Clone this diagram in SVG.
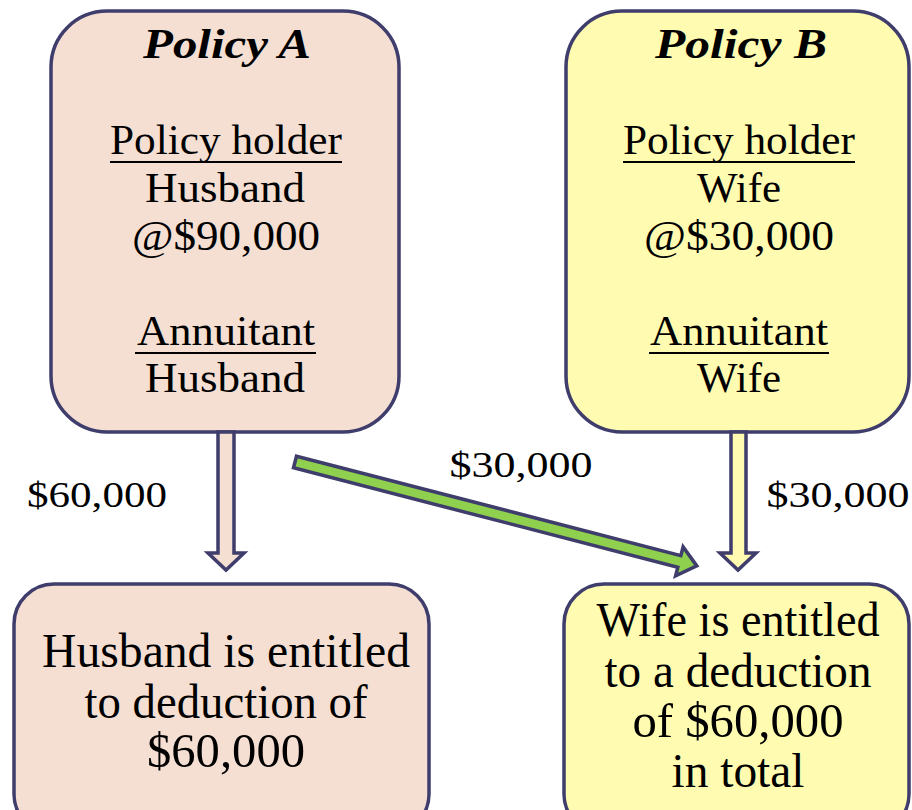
<svg xmlns="http://www.w3.org/2000/svg" width="912" height="810" viewBox="0 0 912 810">
<style>
.box{stroke:#3f3d6b;stroke-width:3.5}
.pink{fill:#f5dfd3}
.yel{fill:#fffbb0}
text{font-family:"Liberation Serif","Times New Roman",serif;fill:#000;text-anchor:middle}
.t{font-size:42px}
.h{font-size:42px;font-weight:bold;font-style:italic}
.b{font-size:48px}
.l{font-size:36px}
.u{stroke:#000;stroke-width:2}
.arr{stroke:#3f3d6b;stroke-width:3.5;stroke-linejoin:miter}
</style>
<rect width="912" height="810" fill="#fff"/>
<g id="policyA">
<rect class="box pink" x="51" y="11" width="348" height="421" rx="56"/>
<text class="h" x="227" y="58" textLength="168" lengthAdjust="spacingAndGlyphs">Policy A</text>
<text class="t" x="226" y="154" textLength="232" lengthAdjust="spacingAndGlyphs">Policy holder</text>
<line class="u" x1="110" y1="162" x2="342" y2="162"/>
<text class="t" x="225" y="202" textLength="160" lengthAdjust="spacingAndGlyphs">Husband</text>
<text class="t" x="226" y="250" textLength="188" lengthAdjust="spacingAndGlyphs">@$90,000</text>
<text class="t" x="226" y="345" textLength="178" lengthAdjust="spacingAndGlyphs">Annuitant</text>
<line class="u" x1="135" y1="353" x2="316" y2="353"/>
<text class="t" x="225" y="392" textLength="160" lengthAdjust="spacingAndGlyphs">Husband</text>
</g>
<g id="policyB">
<rect class="box yel" x="566" y="11" width="343" height="421" rx="56"/>
<text class="h" x="741" y="58" textLength="172" lengthAdjust="spacingAndGlyphs">Policy B</text>
<text class="t" x="739" y="154" textLength="232" lengthAdjust="spacingAndGlyphs">Policy holder</text>
<line class="u" x1="623" y1="162" x2="855" y2="162"/>
<text class="t" x="739" y="202" textLength="84" lengthAdjust="spacingAndGlyphs">Wife</text>
<text class="t" x="739" y="250" textLength="190" lengthAdjust="spacingAndGlyphs">@$30,000</text>
<text class="t" x="739" y="345" textLength="178" lengthAdjust="spacingAndGlyphs">Annuitant</text>
<line class="u" x1="649" y1="353" x2="829" y2="353"/>
<text class="t" x="739" y="392" textLength="84" lengthAdjust="spacingAndGlyphs">Wife</text>
</g>
<g id="husbandResult">
<rect class="box pink" x="14" y="584" width="415" height="250" rx="40"/>
<text class="b" x="226" y="667" textLength="368" lengthAdjust="spacingAndGlyphs">Husband is entitled</text>
<text class="b" x="226" y="718" textLength="283" lengthAdjust="spacingAndGlyphs">to deduction of</text>
<text class="b" x="226" y="767" textLength="158" lengthAdjust="spacingAndGlyphs">$60,000</text>
</g>
<g id="wifeResult">
<rect class="box yel" x="564" y="584" width="345" height="250" rx="40"/>
<text class="b" x="738" y="636" textLength="283" lengthAdjust="spacingAndGlyphs">Wife is entitled</text>
<text class="b" x="738" y="687" textLength="267" lengthAdjust="spacingAndGlyphs">to a deduction</text>
<text class="b" x="738" y="737" textLength="211" lengthAdjust="spacingAndGlyphs">of $60,000</text>
<text class="b" x="738" y="787" textLength="133" lengthAdjust="spacingAndGlyphs">in total</text>
</g>
<g id="connectors">
<polygon class="arr pink" points="218,432 234,432 234,553 244,553 226,570 208,553 218,553"/>
<polygon class="arr yel" points="731,432 746,432 746,553 756,553 738,570 720,553 731,553"/>
<polygon class="arr" fill="#8fd14f" transform="translate(295,462) rotate(14.5)" points="0,-6 397,-6 397,-15 415,0 397,15 397,6 0,6"/>
<text class="l" x="97" y="507" textLength="140" lengthAdjust="spacingAndGlyphs">$60,000</text>
<text class="l" x="521" y="477" textLength="143" lengthAdjust="spacingAndGlyphs">$30,000</text>
<text class="l" x="838" y="507" textLength="143" lengthAdjust="spacingAndGlyphs">$30,000</text>
</g>
</svg>
